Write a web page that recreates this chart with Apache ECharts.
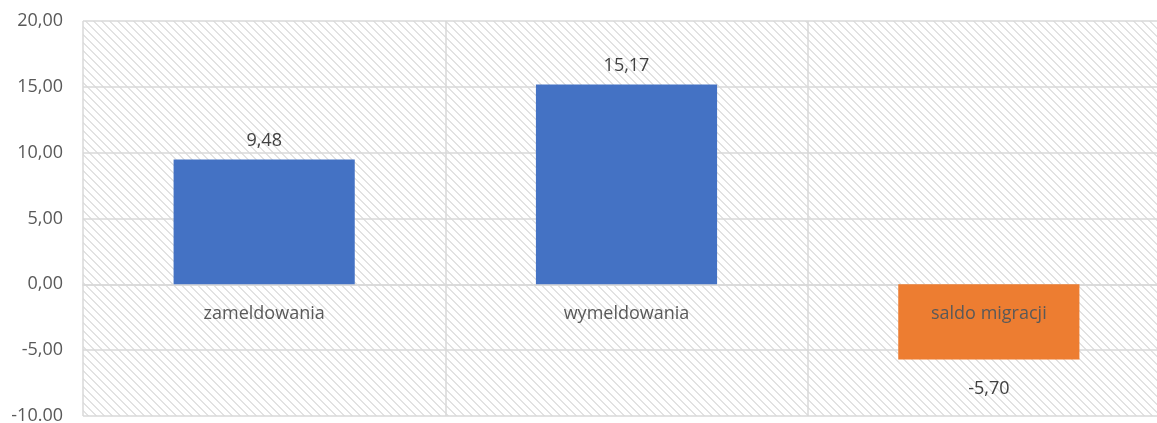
<!DOCTYPE html>
<html>
<head>
<meta charset="utf-8">
<script src="https://cdn.jsdelivr.net/npm/echarts@6/dist/echarts.min.js"></script>
<style>
  html, body { margin: 0; padding: 0; background: #fff; }
  #chart { width: 1157px; height: 423px; }
</style>
</head>
<body>
<div id="chart"></div>
<script>
var categories = ['zameldowania', 'wymeldowania', 'saldo migracji']
var values = [9.48, 15.17, -5.70]
var valueLabels = ['9,48', '15,17', '-5,70']
var barColors = ['#4472C4', '#4472C4', '#ED7D31']
var yTicks = [-10, -5, 0, 5, 10, 15, 20]
var yTickLabels = ['-10.00', '-5,00', '0,00', '5,00', '10,00', '15,00', '20,00']

// diagonal hatch for the plot area
function makeHatch() {
  var c = document.createElement('canvas')
  c.width = 8
  c.height = 8
  var ctx = c.getContext('2d')
  ctx.fillStyle = '#ffffff'
  ctx.fillRect(0, 0, 8, 8)
  ctx.fillStyle = '#e2e2e2'
  for (var i = 0; i < 8; i++) {
    ctx.fillRect(i, i, 1, 1)
    ctx.fillRect((i + 1) % 8, i, 1, 1)
  }
  return c
}

var chart = echarts.init(document.getElementById('chart'))

var option = {
  backgroundColor: '#ffffff',
  animation: false,
  textStyle: { fontFamily: 'Open Sans' },
  grid: {
    left: 83,
    right: -13,
    top: 21,
    bottom: 7,
    containLabel: false,
    outerBoundsMode: 'none',
    show: true,
    borderWidth: 0,
    backgroundColor: { image: makeHatch(), repeat: 'repeat' }
  },
  xAxis: {
    type: 'category',
    data: categories,
    axisLine: { show: true, onZero: true, lineStyle: { color: '#d9d9d9', width: 1.5 } },
    axisTick: { show: false },
    axisLabel: { show: false },
    splitLine: { show: true, lineStyle: { color: '#d9d9d9', width: 1.5 } }
  },
  yAxis: {
    type: 'value',
    min: yTicks[0],
    max: yTicks[yTicks.length - 1],
    interval: 5,
    axisLine: { show: false },
    axisTick: { show: false },
    axisLabel: {
      color: '#595959',
      fontSize: 18,
      margin: 20,
      formatter: function(v) {
        return yTickLabels[yTicks.indexOf(v)]
      }
    },
    splitLine: { lineStyle: { color: '#d9d9d9', width: 1.5 } }
  },
  series: [{
    type: 'bar',
    barWidth: '50%',
    data: values.map(function(v, i) {
      return {
        value: v,
        itemStyle: { color: barColors[i] },
        label: {
          position: v >= 0 ? 'top' : 'bottom',
          distance: v >= 0 ? 10 : 20
        }
      }
    }),
    label: {
      show: true,
      color: '#404040',
      fontSize: 18,
      formatter: function(p) {
        return valueLabels[p.dataIndex]
      }
    }
  }, {
    // category names sitting just under the zero line
    type: 'scatter',
    symbolSize: 0,
    z: 5,
    silent: true,
    itemStyle: { opacity: 1 },
    data: categories.map(function(c) { return [c, 0] }),
    label: {
      show: true,
      position: 'bottom',
      distance: 21,
      color: '#595959',
      fontSize: 18,
      formatter: function(p) {
        return categories[p.dataIndex]
      }
    }
  }]
}

chart.setOption(option)
</script>
</body>
</html>
